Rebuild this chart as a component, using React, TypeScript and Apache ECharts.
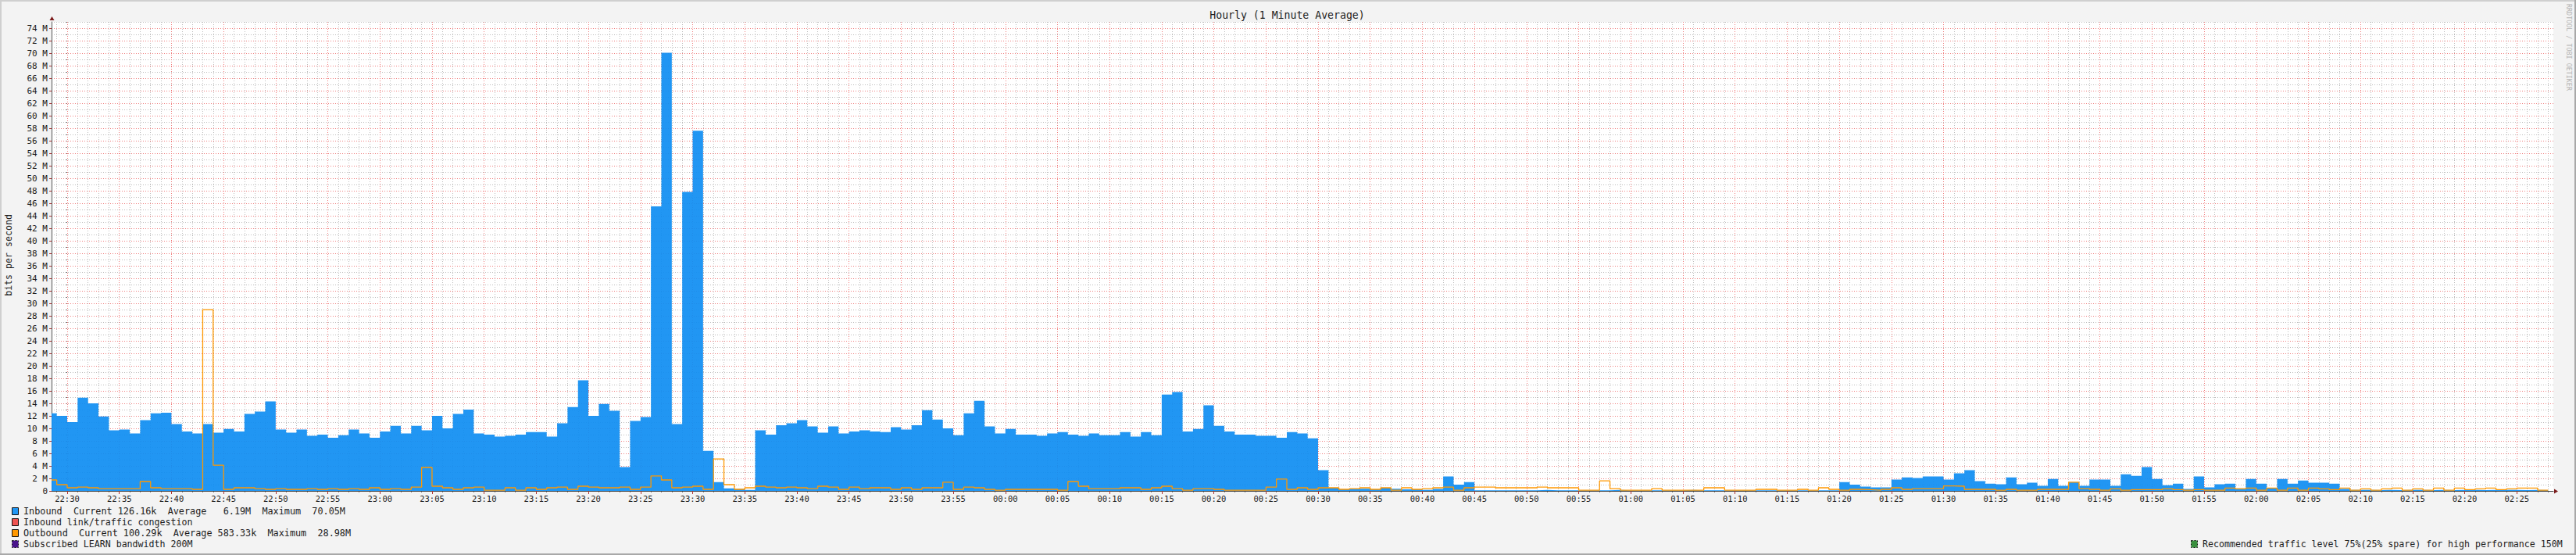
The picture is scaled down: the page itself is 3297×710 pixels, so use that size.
import React, { useEffect, useRef } from "react";
import * as echarts from "echarts";

const title = "Hourly (1 Minute Average)";
const yName = "bits per second";
const watermark = "RRDTOOL / TOBI OETIKER";
const legendInbound = "Inbound  Current 126.16k  Average   6.19M  Maximum  70.05M";
const legendCongestion = "Inbound link/traffic congestion";
const legendOutbound = "Outbound  Current 100.29k  Average 583.33k  Maximum  28.98M";
const legendSubscribed = "Subscribed LEARN bandwidth 200M";
const legendRecommended = "Recommended traffic level 75%(25% spare) for high performance 150M";

const timeLabels = [
  "22:30","22:35","22:40","22:45","22:50","22:55","23:00","23:05","23:10","23:15","23:20","23:25",
  "23:30","23:35","23:40","23:45","23:50","23:55","00:00","00:05","00:10","00:15","00:20","00:25",
  "00:30","00:35","00:40","00:45","00:50","00:55","01:00","01:05","01:10","01:15","01:20","01:25",
  "01:30","01:35","01:40","01:45","01:50","01:55","02:00","02:05","02:10","02:15","02:20","02:25",
];

// Megabits per second per minute bin; the first bin is a partial one.
const inbound = [
  12.4,12.0,11.0,14.9,14.0,11.9,9.7,9.8,9.2,11.3,12.4,12.5,10.7,9.5,9.2,10.7,9.3,9.9,9.5,12.3,12.7,14.3,9.8,9.3,9.8,8.8,9.0,8.5,8.9,9.8,9.2,8.5,9.5,10.4,9.2,10.4,9.7,12.0,10.0,12.3,13.0,9.2,9.0,8.7,8.8,
  9.0,9.4,9.4,8.7,10.8,13.4,17.7,12.0,13.9,12.8,3.8,11.2,11.8,45.5,70.05,10.7,47.8,57.6,6.4,1.4,0.4,0.3,0.15,9.7,9.0,10.5,10.8,11.3,10.3,9.3,10.3,9.2,9.5,9.7,9.5,9.4,10.2,9.8,10.5,12.9,11.4,10.0,8.9,12.4,14.4,
  10.3,9.2,9.9,9.0,9.0,8.8,9.2,9.4,9.0,8.8,9.2,8.9,8.9,9.4,8.7,9.4,8.9,15.4,15.8,9.5,9.9,13.7,10.4,9.5,9.0,9.0,8.8,8.8,8.5,9.4,9.2,8.4,3.3,0.5,0.25,0.35,0.35,0.25,0.5,0.35,0.25,0.25,0.15,0.3,2.3,
  1.0,1.4,0.1,0.1,0.1,0.1,0.1,0.1,0.15,0.1,0.1,0.1,0.1,0.1,0.1,0.15,0.1,0.1,0.1,0.1,0.1,0.1,0.15,0.1,0.1,0.1,0.1,0.1,0.1,0.1,0.1,0.1,0.1,0.1,0.1,0.1,0.1,1.4,1.0,0.7,0.55,0.55,1.8,2.15,2.05,
  2.3,2.3,1.8,2.8,3.3,1.55,1.17,1.05,2.17,1.05,1.3,0.8,1.9,0.8,1.4,0.8,1.8,1.8,0.8,2.67,2.4,3.8,1.9,0.9,1.17,0.3,2.3,0.55,1.05,1.17,0.4,1.9,1.17,0.4,1.9,1.17,1.67,1.3,1.3,1.17,0.3,0.15,0.15,0.12,0.15,0.12,0.15,0.15,0.12,0.15,0.12,0.15,0.15,0.12,0.15,0.15,0.15,0.12,0.15,0.126,
];
const outbound = [
  1.75,1.0,0.5,0.6,0.5,0.35,0.35,0.35,0.35,1.5,0.5,0.35,0.35,0.35,0.25,28.98,4.1,0.25,0.5,0.5,0.35,0.25,0.35,0.25,0.25,0.35,0.25,0.35,0.25,0.35,0.25,0.5,0.25,0.35,0.25,0.6,3.75,0.75,0.5,0.25,0.5,0.6,0.12,0.12,0.5,
  0.12,0.5,0.25,0.5,0.6,0.25,0.75,0.6,0.5,0.5,0.6,0.25,0.6,2.4,1.75,0.5,0.6,0.75,0.25,5.1,1.0,0.25,0.5,0.75,0.6,0.5,0.6,0.5,0.35,0.75,0.6,0.25,0.6,0.35,0.5,0.5,0.25,0.5,0.25,0.5,0.5,1.4,0.25,0.6,0.5,
  0.25,0.12,0.25,0.25,0.25,0.25,0.25,0.12,1.5,0.75,0.35,0.35,0.35,0.5,0.5,0.25,0.5,0.75,0.35,0.12,0.35,0.35,0.25,0.12,0.12,0.12,0.12,0.6,1.9,0.25,0.5,0.25,0.5,0.5,0.25,0.35,0.5,0.25,0.5,0.12,0.5,0.25,0.35,0.5,0.6,
  0.12,0.5,0.6,0.6,0.5,0.5,0.5,0.5,0.6,0.5,0.5,0.5,0.12,0.12,1.6,0.37,0.12,0.12,0.12,0.37,0.12,0.12,0.12,0.12,0.5,0.5,0.12,0.12,0.12,0.25,0.25,0.12,0.12,0.25,0.12,0.5,0.25,0.12,0.25,0.2,0.12,0.25,0.5,0.25,0.37,
  0.37,0.37,0.8,0.75,0.25,0.25,0.25,0.12,0.25,0.12,0.12,0.25,0.25,0.25,1.4,0.37,0.25,0.12,0.33,0.1,0.2,0.2,0.2,0.33,0.2,0.1,0.2,0.1,0.1,0.45,0.33,0.45,0.1,0.45,0.1,0.45,0.1,0.45,0.33,0.2,0.45,0.1,0.33,0.1,0.33,0.45,0.1,0.33,0.1,0.45,0.1,0.45,0.2,0.33,0.45,0.2,0.33,0.45,0.45,0.1,
];

const xMin = -1.5;
const xMax = 238.5;
const minuteTicks: number[] = [];
for (let m = -1; m <= 238; m++) minuteTicks.push(m);
const majorTicks = timeLabels.map((_, i) => i * 5);
const yLabels: number[] = [];
for (let v = 0; v <= 74; v += 2) yLabels.push(v);
const yMinor: number[] = [];
for (let v = 1; v <= 75; v++) yMinor.push(v);

// Each value fills the bin that starts at its edge; the last point closes the last bin.
const steps = (values: number[]) => {
  const pts: [number, number][] = values.map((v, i) => [i === 0 ? xMin : i - 2, v]);
  pts.push([values.length - 2, values[values.length - 1]]);
  return pts;
};

const MONO = "'DejaVu Sans Mono', monospace";
const TEXT = "#1c1c1c";

const legendText = (x: number, y: number, text: string, size = 11.6) => ({
  type: "text", x, y,
  style: { text, fill: TEXT, font: `${size}px ${MONO}`, textVerticalAlign: "middle", textAlign: "left" },
});
const swatch = (x: number, y: number, fill: string, dashed = false) => ({
  type: "rect",
  shape: { x: x + 0.5, y: y + 0.5, width: 8, height: 9 },
  style: { fill, stroke: "#111", lineWidth: 1, lineDash: dashed ? [2, 2] : undefined },
});

export default function App() {
  const ref = useRef<HTMLDivElement>(null);
  useEffect(() => {
    document.body.style.margin = "0";
    document.body.style.overflow = "hidden";
    const chart = echarts.init(ref.current!, undefined, { renderer: "svg" });
    const base = { show: false };
    const minorGrid = { show: true, lineStyle: { color: "#bdbdbd", width: 1, type: [1, 2] } };
    const majorGrid = { show: true, lineStyle: { color: "#f07f7f", width: 1, type: [1, 2] } };
    chart.setOption({
      animation: false,
      backgroundColor: "#f3f3f3",
      grid: { left: 66, top: 28, width: 3202, height: 600, show: true, backgroundColor: "#fff", borderWidth: 0 },
      xAxis: [
        {
          type: "value", min: xMin, max: xMax, position: "bottom", z: 1,
          axisLine: base,
          axisTick: { show: true, customValues: minuteTicks, length: 2, lineStyle: { color: "#777" } },
          axisLabel: base,
          splitLine: minorGrid,
        },
        {
          type: "value", min: xMin, max: xMax, position: "bottom", z: 2,
          axisLine: { show: true, onZero: false, lineStyle: { color: "#444", width: 1 } },
          axisTick: { show: true, customValues: majorTicks, length: 4, lineStyle: { color: "#a33" } },
          axisLabel: {
            show: true, customValues: majorTicks, color: TEXT, fontFamily: MONO, fontSize: 10.5, margin: 4,
            formatter: (v: number) => timeLabels[Math.round(v / 5)] ?? "",
          },
          splitLine: majorGrid,
        },
      ],
      yAxis: [
        {
          type: "value", min: 0, max: 75, position: "left", z: 1,
          axisLine: base,
          axisTick: { show: true, customValues: yMinor, length: 2, lineStyle: { color: "#777" } },
          axisLabel: base,
          splitLine: minorGrid,
        },
        {
          type: "value", min: 0, max: 75, position: "left", z: 2,
          axisLine: { show: true, onZero: false, lineStyle: { color: "#555", width: 1 } },
          axisTick: { show: true, customValues: yLabels, length: 3, lineStyle: { color: "#a33" } },
          axisLabel: {
            show: true, customValues: yLabels, color: TEXT, fontFamily: MONO, fontSize: 11, margin: 5,
            formatter: (v: number) => (v === 0 ? "0" : `${v} M`),
          },
          splitLine: majorGrid,
        },
      ],
      series: [
        {
          name: "Inbound", type: "line", step: "end", xAxisIndex: 0, yAxisIndex: 0,
          data: steps(inbound), symbol: "none", z: 3, silent: true,
          lineStyle: { width: 0 },
          areaStyle: { color: "rgb(14,141,242)", opacity: 0.92 },
        },
        {
          name: "Outbound", type: "line", step: "end", xAxisIndex: 0, yAxisIndex: 0,
          data: steps(outbound), symbol: "none", z: 4, silent: true,
          lineStyle: { color: "#ff9800", width: 1.3 },
        },
      ],
      graphic: [
        { type: "rect", silent: true, shape: { x: 0, y: 0, width: 3297, height: 2 }, style: { fill: "#cfcfcf" } },
        { type: "rect", silent: true, shape: { x: 0, y: 0, width: 2, height: 710 }, style: { fill: "#cfcfcf" } },
        { type: "rect", silent: true, shape: { x: 0, y: 708, width: 3297, height: 2 }, style: { fill: "#a8a8a8" } },
        { type: "rect", silent: true, shape: { x: 3295, y: 0, width: 2, height: 710 }, style: { fill: "#a8a8a8" } },
        { type: "polygon", shape: { points: [[66.5, 21], [63.5, 26], [69.5, 26]] }, style: { fill: "#7a1a1a" } },
        { type: "polygon", shape: { points: [[3274, 628.5], [3269, 625.5], [3269, 631.5]] }, style: { fill: "#7a1a1a" } },
        {
          type: "text", x: 1647.5, y: 19,
          style: { text: title, fill: TEXT, font: `13.2px ${MONO}`, textAlign: "center", textVerticalAlign: "middle" },
        },
        {
          type: "text", x: 11, y: 326.5, rotation: Math.PI / 2,
          style: { text: yName, fill: TEXT, font: `11.6px ${MONO}`, textAlign: "center", textVerticalAlign: "middle" },
        },
        {
          type: "text", x: 3288, y: 5, rotation: -Math.PI / 2,
          style: { text: watermark, fill: "#b5b5b5", font: `8.4px ${MONO}`, textAlign: "left", textVerticalAlign: "middle" },
        },
        swatch(15, 649, "#2196f3"),
        legendText(30, 654, legendInbound, 11.8),
        swatch(15, 663, "#ef5350"),
        legendText(30, 668, legendCongestion),
        swatch(15, 677, "#ff9800"),
        legendText(30, 682, legendOutbound, 11.8),
        swatch(15, 691, "#4a148c", true),
        legendText(30, 696, legendSubscribed),
        swatch(2804, 691, "#388e3c", true),
        legendText(2819, 696, legendRecommended),
      ],
    });
    return () => chart.dispose();
  }, []);
  return <div ref={ref} style={{ width: 3297, height: 710 }} />;
}
